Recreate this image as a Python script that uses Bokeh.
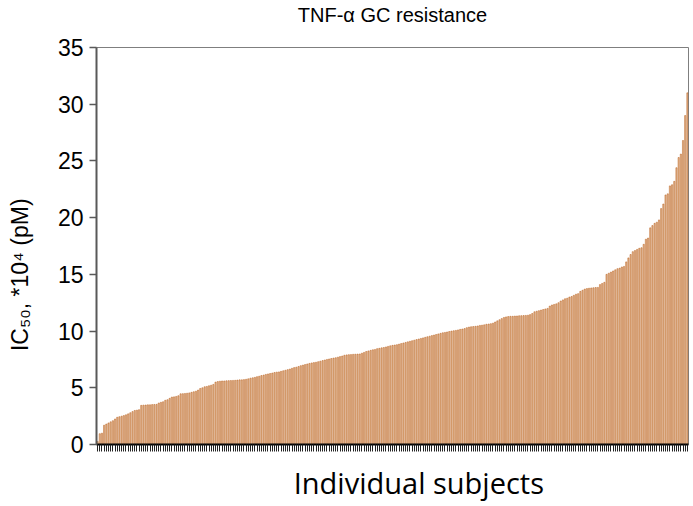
from bokeh.plotting import figure
from bokeh.models import Range1d, FixedTicker, ColumnDataSource, LinearAxis
from bokeh.embed import file_html
from bokeh.resources import INLINE

title_text = "TNF-α GC resistance"
y_label = "IC₅₀, *10⁴ (pM)"
x_label = "Individual subjects"
y_ticks = [0, 5, 10, 15, 20, 25, 30, 35]

# IC50 values (*10^4 pM), sorted ascending, one per subject
ic50 = [
    0.26, 0.95, 1.0, 1.7, 1.8, 1.9, 2.0, 2.1, 2.25, 2.4,
    2.45, 2.5, 2.55, 2.62, 2.7, 2.8, 2.9, 3.0, 3.03, 3.07,
    3.45, 3.47, 3.48, 3.5, 3.5, 3.52, 3.53, 3.54, 3.66, 3.72,
    3.77, 3.9, 3.95, 4.07, 4.18, 4.2, 4.24, 4.3, 4.47, 4.48,
    4.5, 4.52, 4.55, 4.6, 4.65, 4.7, 4.8, 4.94, 5.0, 5.09,
    5.12, 5.18, 5.23, 5.3, 5.5, 5.55, 5.58, 5.6, 5.6, 5.62,
    5.63, 5.64, 5.65, 5.66, 5.68, 5.7, 5.7, 5.72, 5.75, 5.79,
    5.85, 5.88, 5.92, 5.98, 6.02, 6.08, 6.12, 6.18, 6.22, 6.26,
    6.3, 6.35, 6.38, 6.4, 6.45, 6.5, 6.55, 6.6, 6.65, 6.72,
    6.78, 6.82, 6.88, 6.95, 7.0, 7.05, 7.1, 7.15, 7.19, 7.22,
    7.25, 7.3, 7.35, 7.4, 7.45, 7.5, 7.54, 7.58, 7.62, 7.65,
    7.7, 7.75, 7.8, 7.87, 7.9, 7.92, 7.93, 7.95, 7.96, 7.97,
    7.98, 8.05, 8.12, 8.2, 8.25, 8.3, 8.35, 8.38, 8.45, 8.48,
    8.52, 8.55, 8.6, 8.65, 8.7, 8.74, 8.77, 8.8, 8.85, 8.9,
    8.95, 9.0, 9.05, 9.1, 9.15, 9.2, 9.25, 9.3, 9.35, 9.4,
    9.45, 9.5, 9.55, 9.6, 9.65, 9.7, 9.75, 9.8, 9.85, 9.88,
    9.92, 9.96, 10.0, 10.03, 10.06, 10.1, 10.15, 10.18, 10.22, 10.3,
    10.35, 10.38, 10.4, 10.42, 10.45, 10.5, 10.52, 10.55, 10.6, 10.62,
    10.65, 10.7, 10.8, 10.9, 11.0, 11.1, 11.2, 11.25, 11.28, 11.3,
    11.3, 11.32, 11.33, 11.35, 11.36, 11.37, 11.38, 11.4, 11.45, 11.55,
    11.7, 11.75, 11.8, 11.85, 11.9, 11.95, 12.0, 12.2, 12.3, 12.35,
    12.4, 12.5, 12.65, 12.75, 12.85, 12.9, 13.0, 13.05, 13.15, 13.25,
    13.3, 13.5, 13.6, 13.7, 13.75, 13.78, 13.8, 13.82, 13.84, 13.85,
    14.1, 14.2, 14.3, 15.0, 15.1, 15.2, 15.3, 15.4, 15.5, 15.55,
    15.65, 15.7, 16.1, 16.45, 16.75, 17.0, 17.1, 17.2, 17.3, 17.35,
    17.65, 18.1, 18.2, 19.1, 19.3, 19.5, 19.6, 19.8, 20.8, 21.2,
    22.0, 22.1, 22.8, 22.9, 23.2, 24.4, 25.3, 25.6, 26.8, 29.0, 31.0,
]
subjects = list(range(len(ic50)))

source = ColumnDataSource(data=dict(x=subjects, top=ic50))

p = figure(
    width=690, height=504,
    output_backend="svg", toolbar_location=None, title_location=None,
    x_range=Range1d(-0.5, len(ic50) - 0.5),
    y_range=Range1d(0, 35),
    min_border_left=96, min_border_right=2,
    min_border_top=46, min_border_bottom=58,
)
p.vbar(x="x", top="top", bottom=0, width=0.55, source=source,
       fill_color="#E3BC98", line_color="#B85C18", line_width=0.5)

# grid / outline
p.xgrid.grid_line_color = None
p.ygrid.grid_line_color = None
p.outline_line_color = "#7F7F7F"
p.outline_line_width = 1
p.background_fill_color = "white"
p.border_fill_color = "white"

NB = "\u00a0"

# bottom x axis: one tick per subject, no labels
bax = p.below[0]
bax.ticker = FixedTicker(ticks=[], minor_ticks=subjects)
bax.axis_line_color = "black"
bax.axis_line_width = 2
bax.major_tick_line_color = None
bax.major_tick_out = 7
bax.major_tick_in = 0
bax.minor_tick_line_color = "#222222"
bax.minor_tick_line_width = 1
bax.minor_tick_out = 7
bax.minor_tick_in = 0
bax.major_label_standoff = 0
bax.axis_label = NB * 7 + x_label
bax.axis_label_text_font = "Open Sans"
bax.axis_label_text_font_size = "29px"
bax.axis_label_text_font_style = "normal"
bax.axis_label_text_color = "black"
bax.axis_label_standoff = 11

# y axis
p.yaxis.ticker = FixedTicker(ticks=y_ticks)
p.yaxis.axis_line_color = "#595959"
p.yaxis.axis_line_width = 2
p.yaxis.major_tick_line_color = "#595959"
p.yaxis.major_tick_line_width = 1.5
p.yaxis.major_tick_out = 7
p.yaxis.major_tick_in = 0
p.yaxis.minor_tick_line_color = None
p.yaxis.major_label_text_font = "Liberation Sans"
p.yaxis.major_label_text_font_size = "23px"
p.yaxis.major_label_text_color = "black"
p.yaxis.major_label_standoff = 6
p.yaxis.axis_label = y_label + NB * 9
p.yaxis.axis_label_text_font = "Liberation Sans"
p.yaxis.axis_label_text_font_size = "23px"
p.yaxis.axis_label_text_font_style = "normal"
p.yaxis.axis_label_text_color = "black"
p.yaxis.axis_label_standoff = 22

# title drawn as the label of an empty top axis
top_axis = LinearAxis(ticker=FixedTicker(ticks=[]), axis_label=title_text)
top_axis.axis_line_color = None
top_axis.major_tick_line_color = None
top_axis.minor_tick_line_color = None
top_axis.major_tick_out = 0
top_axis.major_tick_in = 0
top_axis.minor_tick_out = 0
top_axis.minor_tick_in = 0
top_axis.major_label_standoff = 0
top_axis.axis_label_standoff = 22
top_axis.axis_label_text_font = "Liberation Sans"
top_axis.axis_label_text_font_size = "20px"
top_axis.axis_label_text_font_style = "normal"
top_axis.axis_label_text_color = "black"
p.add_layout(top_axis, "above")

open("out.html", "w").write(file_html(p, INLINE))
